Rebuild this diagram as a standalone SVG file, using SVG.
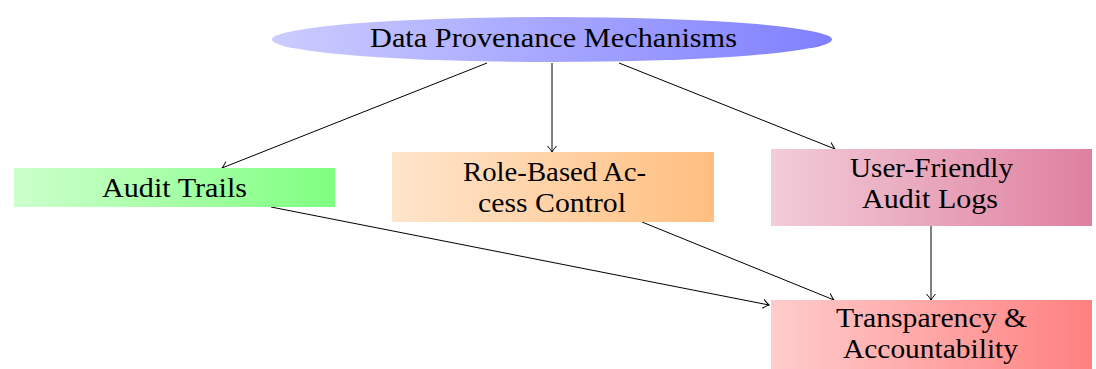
<svg xmlns="http://www.w3.org/2000/svg" width="1096" height="369" viewBox="0 0 1096 369">
  <style>
    .lbl { font-family: "Liberation Serif", "Times New Roman", serif; font-size: 26.5px; fill: #000; text-anchor: middle; }
    .edge { stroke: #000; stroke-width: 1; fill: none; marker-end: url(#tip); }
  </style>
  <defs>
    <linearGradient id="gBlue" x1="0" x2="1" y1="0" y2="0">
      <stop offset="0" stop-color="#ccccff"/>
      <stop offset="1" stop-color="#8080ff"/>
    </linearGradient>
    <linearGradient id="gGreen" x1="0" x2="1" y1="0" y2="0">
      <stop offset="0" stop-color="#ccffcc"/>
      <stop offset="1" stop-color="#80ff80"/>
    </linearGradient>
    <linearGradient id="gOrange" x1="0" x2="1" y1="0" y2="0">
      <stop offset="0" stop-color="#ffe5cc"/>
      <stop offset="1" stop-color="#ffbf80"/>
    </linearGradient>
    <linearGradient id="gPurple" x1="0" x2="1" y1="0" y2="0">
      <stop offset="0" stop-color="#f2ccd9"/>
      <stop offset="1" stop-color="#df809f"/>
    </linearGradient>
    <linearGradient id="gRed" x1="0" x2="1" y1="0" y2="0">
      <stop offset="0" stop-color="#ffcccc"/>
      <stop offset="1" stop-color="#ff8080"/>
    </linearGradient>
    <marker id="tip" markerUnits="userSpaceOnUse" markerWidth="14" markerHeight="14" refX="0" refY="0" viewBox="-8 -7 10 14" orient="auto">
      <path d="M -6 -4.5 Q -2 -1 0 0 Q -2 1 -6 4.5" stroke="#000" stroke-width="1" fill="none"/>
    </marker>
  </defs>

  <g id="connectors">
    <line class="edge" x1="487" y1="63" x2="222" y2="168"/>
    <line class="edge" x1="552" y1="63" x2="552" y2="152"/>
    <line class="edge" x1="619" y1="63" x2="835" y2="149"/>
    <line class="edge" x1="271" y1="207" x2="769" y2="305"/>
    <line class="edge" x1="642" y1="222" x2="834" y2="300"/>
    <line class="edge" x1="931" y1="226" x2="931" y2="300"/>
  </g>

  <g id="data-provenance">
    <ellipse cx="552" cy="39.5" rx="280" ry="22.5" fill="url(#gBlue)"/>
    <text class="lbl" x="553.5" y="47" textLength="367" lengthAdjust="spacingAndGlyphs">Data Provenance Mechanisms</text>
  </g>

  <g id="audit-trails">
    <rect x="14" y="168" width="321" height="39" fill="url(#gGreen)"/>
    <text class="lbl" x="174.5" y="197" textLength="145" lengthAdjust="spacingAndGlyphs">Audit Trails</text>
  </g>

  <g id="role-based-access">
    <rect x="392" y="152" width="322" height="70" fill="url(#gOrange)"/>
    <text class="lbl" x="554.5" y="181" textLength="183" lengthAdjust="spacingAndGlyphs">Role-Based Ac-</text>
    <text class="lbl" x="552" y="212" textLength="148" lengthAdjust="spacingAndGlyphs">cess Control</text>
  </g>

  <g id="user-friendly-logs">
    <rect x="771" y="149" width="321" height="77" fill="url(#gPurple)"/>
    <text class="lbl" x="931.5" y="177" textLength="163" lengthAdjust="spacingAndGlyphs">User-Friendly</text>
    <text class="lbl" x="930" y="208" textLength="136" lengthAdjust="spacingAndGlyphs">Audit Logs</text>
  </g>

  <g id="transparency">
    <rect x="771" y="300" width="321" height="69" fill="url(#gRed)"/>
    <text class="lbl" x="931.5" y="327" textLength="191" lengthAdjust="spacingAndGlyphs">Transparency &amp;</text>
    <text class="lbl" x="930.5" y="358" textLength="175" lengthAdjust="spacingAndGlyphs">Accountability</text>
  </g>
</svg>
